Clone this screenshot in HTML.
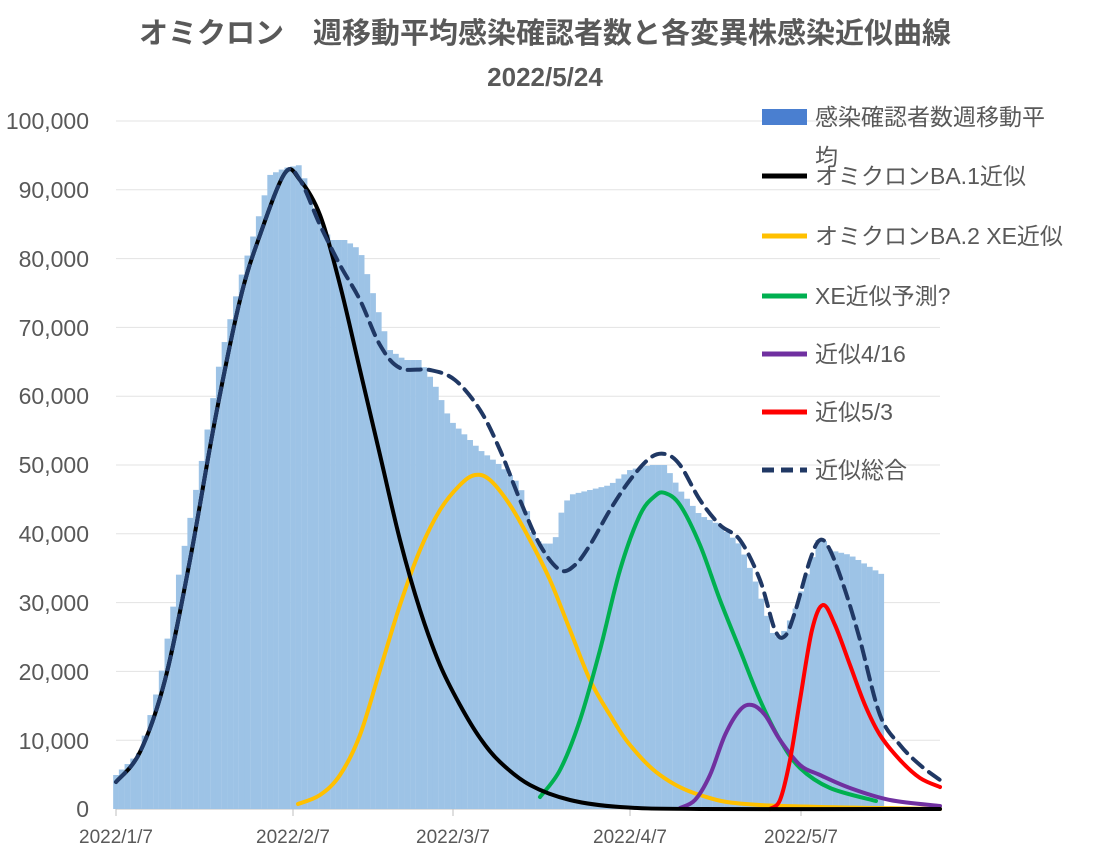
<!DOCTYPE html>
<html><head><meta charset="utf-8"><style>
body{margin:0;background:#fff;width:1104px;height:863px;overflow:hidden}
svg{display:block}
text{font-family:"Liberation Sans","Noto Sans CJK JP",sans-serif;fill:#595959}
</style></head><body>
<svg id="s" width="1104" height="863" xmlns="http://www.w3.org/2000/svg">
<text x="545" y="43" text-anchor="middle" font-size="29" font-weight="bold">オミクロン　週移動平均感染確認者数と各変異株感染近似曲線</text>
<text x="545" y="86" text-anchor="middle" font-size="26" font-weight="bold">2022/5/24</text>
<g id="grid"></g>
<g id="bars"></g>
<g id="lines" fill="none" stroke-linejoin="round" stroke-linecap="round"></g>
<g font-size="23" text-anchor="end">
<text x="89" y="129">100,000</text><text x="89" y="198">90,000</text><text x="89" y="267">80,000</text><text x="89" y="336">70,000</text><text x="89" y="404">60,000</text><text x="89" y="473">50,000</text><text x="89" y="542">40,000</text><text x="89" y="611">30,000</text><text x="89" y="680">20,000</text><text x="89" y="749">10,000</text><text x="89" y="817">0</text>
</g>
<g font-size="19" text-anchor="middle">
<text x="116" y="843">2022/1/7</text><text x="293" y="843">2022/2/7</text><text x="453" y="843">2022/3/7</text><text x="630" y="843">2022/4/7</text><text x="801" y="843">2022/5/7</text>
</g>
<g font-size="23">
<rect x="762" y="109" width="45" height="16" fill="#4a7fd0"/>
<text x="815" y="125">感染確認者数週移動平</text><text x="815" y="165">均</text>
<line x1="762" y1="176" x2="807" y2="176" stroke="#000" stroke-width="5"/><text x="815" y="184">オミクロンBA.1近似</text>
<line x1="762" y1="236" x2="807" y2="236" stroke="#ffc000" stroke-width="5"/><text x="815" y="244">オミクロンBA.2 XE近似</text>
<line x1="762" y1="296" x2="807" y2="296" stroke="#00b050" stroke-width="5"/><text x="815" y="304">XE近似予測?</text>
<line x1="762" y1="354" x2="807" y2="354" stroke="#7030a0" stroke-width="5"/><text x="815" y="362">近似4/16</text>
<line x1="762" y1="412" x2="807" y2="412" stroke="#ff0000" stroke-width="5"/><text x="815" y="420">近似5/3</text>
<line x1="762" y1="470" x2="807" y2="470" stroke="#203864" stroke-width="5" stroke-dasharray="12 7"/><text x="815" y="478">近似総合</text>
</g>
</svg>
<script>
var NS="http://www.w3.org/2000/svg";
function el(p,t,a){var e=document.createElementNS(NS,t);for(var k in a)e.setAttribute(k,a[k]);p.appendChild(e);return e;}
var g=document.getElementById("grid");
for(var i=0;i<=10;i++){var y=809-i*68.8;el(g,"line",{x1:116,x2:940,y1:y,y2:y,stroke:i==0?"#bfbfbf":"#e3e3e3","stroke-width":1});}
[116,293,453,630,801].forEach(function(x){el(g,"line",{x1:x,x2:x,y1:809,y2:816,stroke:"#bfbfbf"});});
var bk=[[116,775],[140,752],[160,680],[180,568],[200,470],[220,360],[240,280],[255,230],[270,175],[285,168],[300,165],[310,195],[320,220],[330,240],[345,240],[360,250],[375,300],[390,350],[405,360],[420,360],[435,385],[450,420],[465,435],[480,450],[500,465],[520,485],[535,540],[548,545],[555,540],[562,510],[570,495],[590,490],[610,485],[630,470],[650,465],[665,465],[680,490],[700,515],[720,525],[740,545],[755,580],[765,610],[775,640],[785,630],[795,610],[810,565],[820,535],[830,550],[850,555],[870,567],[883,575]];
function interp(x){for(var i=0;i<bk.length-1;i++){if(x<=bk[i+1][0]){var a=bk[i],b=bk[i+1];return a[1]+(b[1]-a[1])*(x-a[0])/(b[0]-a[0]);}}return bk[bk.length-1][1];}
var b=document.getElementById("bars");
for(var x=116;x<=884;x+=5.71){var y=interp(x);el(b,"rect",{x:x-2.85,y:y,width:5.8,height:809-y,fill:"#9dc3e6"});}
function path(pts,col,dash){var d="M"+pts[0][0]+","+pts[0][1];for(var i=0;i<pts.length-1;i++){var p0=pts[i-1]||pts[i],p1=pts[i],p2=pts[i+1],p3=pts[i+2]||p2;d+=" C"+(p1[0]+(p2[0]-p0[0])/6)+","+(p1[1]+(p2[1]-p0[1])/6)+" "+(p2[0]-(p3[0]-p1[0])/6)+","+(p2[1]-(p3[1]-p1[1])/6)+" "+p2[0]+","+p2[1];}
var a={d:d,stroke:col,"stroke-width":4};if(dash)a["stroke-dasharray"]="13 8";el(document.getElementById("lines"),"path",a);}
var head=[[116,782],[140,752],[165,680],[190,560],[215,420],[240,300],[260,235],[285,173],[300,180]];
path([[298,804],[320,795],[340,775],[360,735],[380,670],[400,605],[420,550],[440,510],[460,485],[475,475],[490,480],[510,505],[530,540],[550,580],[570,630],[590,680],[610,715],[630,745],[660,775],[700,795],[760,805],[940,809]],"#ffc000");
path([[540,797],[560,770],[580,720],[600,650],[620,570],[640,515],[655,496],[665,493],[680,505],[700,545],[720,600],[740,650],[760,700],[780,740],[800,768],[830,788],[876,801]],"#00b050");
path([[680,808],[695,800],[710,775],[725,735],[740,710],[752,705],[765,715],[780,740],[800,765],[820,775],[850,788],[890,800],[940,806]],"#7030a0");
path([[770,809],[780,800],[790,760],[800,700],[812,630],[823,605],[835,625],[850,665],[865,705],[880,735],[900,760],[920,778],[940,787]],"#ff0000");
path(head.concat([[320,215],[340,285],[360,370],[380,455],[400,540],[420,610],[440,665],[460,705],[480,738],[500,762],[530,785],[570,800],[620,807],[700,809],[940,809]]),"#000");
path(head.concat([[320,225],[340,265],[360,300],[380,345],[400,368],[430,370],[455,380],[480,410],[500,450],[520,500],[540,545],[560,570],[575,565],[590,545],[610,510],[630,480],[650,458],[665,454],[680,465],[700,500],[720,525],[740,540],[760,580],[775,630],[785,636],[795,612],[810,560],[820,540],[830,550],[845,590],[860,640],[880,715],[900,745],[920,765],[940,780]]),"#203864",true);
</script>
</body></html>
